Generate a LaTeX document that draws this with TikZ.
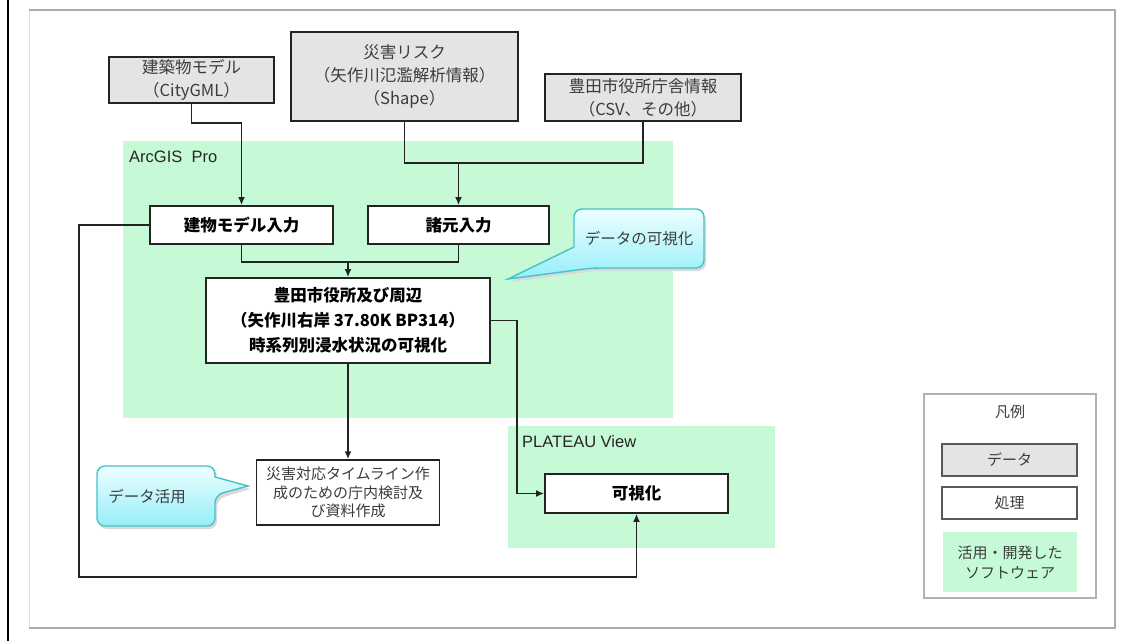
\documentclass[tikz,border=0pt]{standalone}
\usepackage{fontspec}
\setmainfont{Noto Sans CJK JP}
\newfontfamily\latinsans{Liberation Sans}
\usetikzlibrary{arrows.meta}
\definecolor{zonegreen}{RGB}{198,250,214}
\definecolor{datagray}{RGB}{228,228,228}
\definecolor{calloutedge}{RGB}{70,195,200}
\definecolor{callouttop}{RGB}{236,255,255}
\definecolor{calloutbot}{RGB}{150,238,248}
\definecolor{linecol}{RGB}{35,35,35}
\definecolor{txtgray}{RGB}{60,60,60}
\begin{document}
\begin{tikzpicture}[x=1pt,y=-1pt,
  databox/.style={draw=linecol, line width=1.8pt, fill=datagray, inner sep=0pt, align=center, text=txtgray, font=\fontsize{16.5}{23}\selectfont},
  procbox/.style={draw=linecol, line width=1.8pt, fill=white, inner sep=0pt, align=center, text=black, font=\bfseries\fontsize{16.5}{25}\selectfont},
  notebox/.style={draw=linecol, line width=1.5pt, fill=white, inner sep=0pt, align=center, text=txtgray, font=\fontsize{15}{18.5}\selectfont},
  zone/.style={fill=zonegreen, draw=none},
  lbl/.style={anchor=west, inner sep=0pt, text=black!85, font=\latinsans\fontsize{16.5}{18}\selectfont},
  calltext/.style={inner sep=0pt, text=txtgray, font=\fontsize{15.5}{18}\selectfont},
  legtext/.style={inner sep=0pt, align=center, text=txtgray, font=\fontsize{15}{20}\selectfont},
  ln/.style={draw=linecol, line width=1.6pt},
  arr/.style={draw=linecol, line width=1.6pt, -{Latex[length=8pt,width=7pt]}},
  callshape/.style={top color=callouttop, bottom color=calloutbot, draw=calloutedge, line width=1.4pt},
]
\useasboundingbox (0,0) rectangle (1135,641);
\fill[white] (0,0) rectangle (1135,641);

% outer frame
\draw[gray!25, line width=1pt] (29,10) -- (29,628);
\draw[gray!65, line width=1.6pt] (29,10) -- (1115,10) -- (1115,628) -- (29,628);
\draw[black, line width=2.4pt] (8,0) -- (8,641);

% software areas
\fill[zone] (123,141) rectangle (673,418);
\fill[zone] (508,426) rectangle (775,548);
\node[lbl] (arclbl) at (129,157) {ArcGIS\ \ Pro};
\node[lbl] (platlbl) at (522,442) {PLATEAU View};

% data boxes
\node[databox, minimum width=165pt, minimum height=46pt] (bldg) at (191.5,80) {建築物モデル\\（CityGML）};
\node[databox, minimum width=227pt, minimum height=89pt] (risk) at (404.5,76.5) {災害リスク\\（矢作川氾濫解析情報）\\（Shape）};
\node[databox, minimum width=196pt, minimum height=47pt] (hall) at (643,97.5) {豊田市役所庁舎情報\\（CSV、その他）};

% process boxes
\node[procbox, minimum width=183pt, minimum height=38pt] (bin) at (241.5,225) {建物モデル入力};
\node[procbox, minimum width=181pt, minimum height=38pt] (sin) at (458.5,225) {諸元入力};
\node[procbox, minimum width=284pt, minimum height=85pt] (vis) at (348,320.5) {豊田市役所及び周辺\\（矢作川右岸 37.80K BP314）\\時系列別浸水状況の可視化};
\node[notebox, minimum width=183pt, minimum height=65pt] (plan) at (348,492.5) {災害対応タイムライン作\\成のための庁内検討及\\び資料作成};
\node[procbox, minimum width=183pt, minimum height=39pt] (viz) at (636.5,493.5) {可視化};

% bend points
\coordinate (c1) at (191.5,123);
\coordinate (c2) at (404.5,163);
\coordinate (c3) at (643,163);
\coordinate (c4) at (458.5,163);
\coordinate (c5) at (241.5,262);
\coordinate (c6) at (458.5,262);
\coordinate (c7) at (348,262);
\coordinate (c8) at (517,320.5);
\coordinate (c9) at (79,225);
\coordinate (c10) at (79,577);

% connectors
\draw[arr] (bldg.south) -- (c1) -| (bin.north);
\draw[ln] (risk.south) -- (c2) -- (c3) -- (hall.south);
\draw[arr] (c4) -- (sin.north);
\draw[ln] (bin.south) -- (c5) -- (c6) -- (sin.south);
\draw[arr] (c7) -- (vis.north);
\draw[arr] (vis.south) -- (plan.north);
\draw[arr] (vis.east) -- (c8) |- (viz.west);
\draw[arr] (bin.west) -- (c9) -- (c10) -| (viz.south);

% callouts
\fill[black!15] (576,250) [rounded corners=8pt] -- (576,212) -- (706,212) -- (706,271) -- (594,271) [sharp corners] -- (510,282) -- cycle;
\shadedraw[callshape] (574,247) [rounded corners=8pt] -- (574,209) -- (704,209) -- (704,268) -- (592,268) [sharp corners] -- (508,279) -- cycle;
\node[calltext] (vizcall) at (639,239) {データの可視化};

\fill[black!15] (217,480) [rounded corners=8pt] -- (217,469) -- (99,469) -- (99,529) -- (217,529) -- (217,499) [sharp corners] -- (250,489) -- cycle;
\shadedraw[callshape] (215,477) [rounded corners=8pt] -- (215,466) -- (97,466) -- (97,526) -- (215,526) -- (215,495) [sharp corners] -- (248,486) -- cycle;
\node[calltext] (usecall) at (147,497) {データ活用};

% legend
\node[draw=gray!60, line width=1.5pt, minimum width=172pt, minimum height=204pt, inner sep=0pt] (legend) at (1010,496) {};
\node[legtext] (legtitle) at (1010,412) {凡例};
\node[databox, draw=gray!70!black, line width=1.3pt, minimum width=135pt, minimum height=32pt, font=\fontsize{15}{20}\selectfont] (legdata) at (1009.5,460) {データ};
\node[notebox, draw=gray!70!black, line width=1.3pt, minimum width=135pt, minimum height=32pt, font=\fontsize{15}{20}\selectfont] (legproc) at (1009.5,503) {処理};
\node[legtext, fill=zonegreen, minimum width=134pt, minimum height=60pt] (legsoft) at (1010,562) {活用・開発した\\ソフトウェア};
\end{tikzpicture}
\end{document}
